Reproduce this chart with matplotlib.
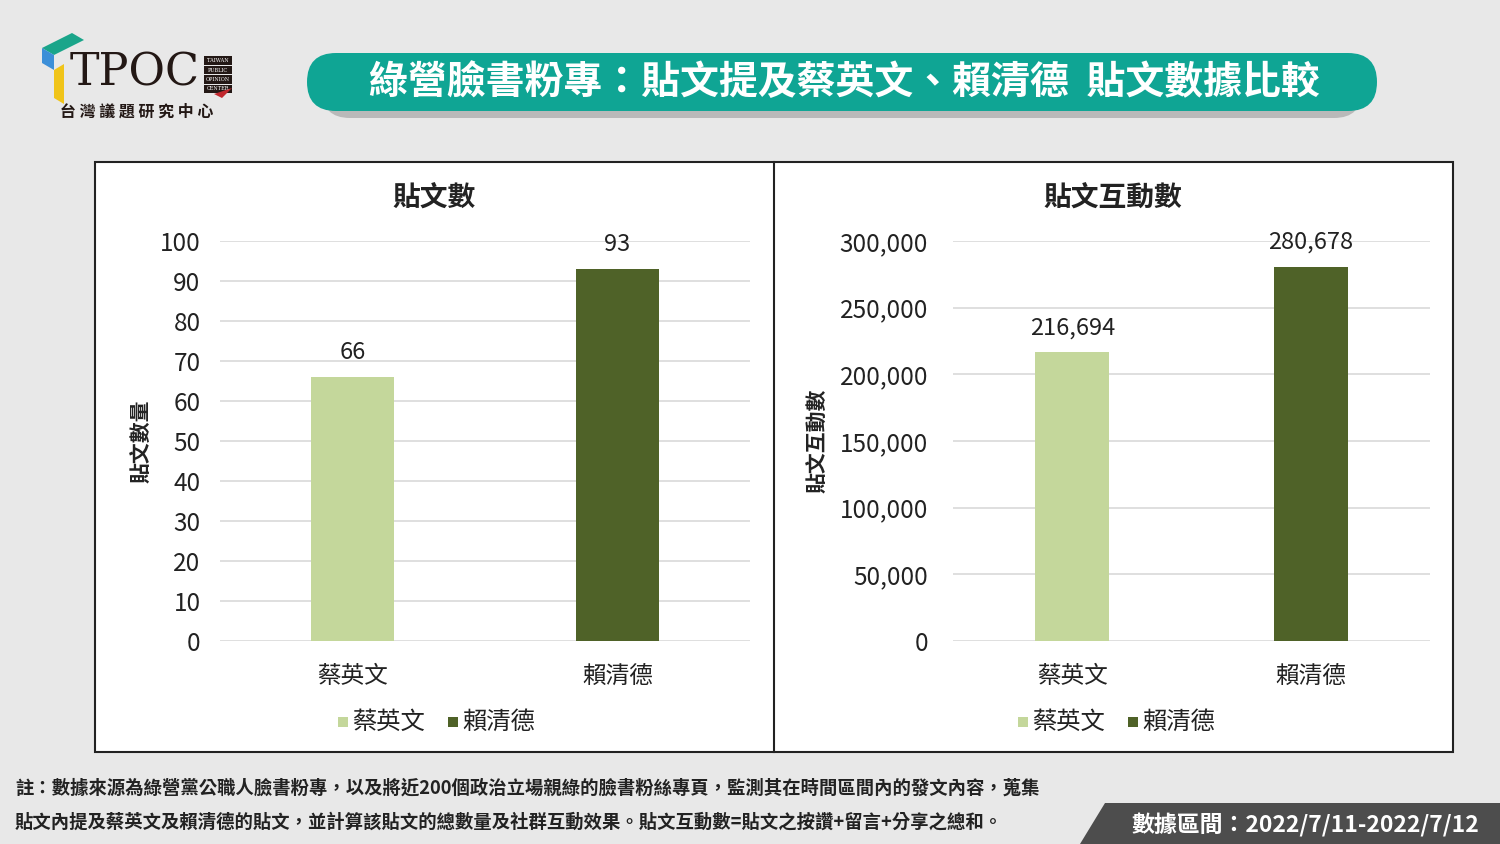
import matplotlib
matplotlib.use('Agg')
import matplotlib.pyplot as plt
import matplotlib.patches as mpatches
from matplotlib.ticker import FuncFormatter

plt.rcParams['font.family'] = ['Noto Sans CJK TC', 'DejaVu Sans']

W, H = 1500, 844

candidates = ['蔡英文', '賴清德']
post_counts = [66, 93]
interactions = [216694, 280678]
bar_colors = ['#c4d79b', '#4f6228']

count_ticks = list(range(0, 101, 10))
inter_ticks = list(range(0, 300001, 50000))

BG = '#e8e8e8'
TEAL = '#0fa594'


def px(x, y, w, h):
    # pixel box (top-left origin) -> figure fraction rect
    return [x / W, 1 - (y + h) / H, w / W, h / H]


fig = plt.figure(figsize=(15, 8.44), dpi=100, facecolor=BG)
bg = fig.add_axes([0, 0, 1, 1])
bg.set_xlim(0, W)
bg.set_ylim(H, 0)
bg.axis('off')

# title pill with shadow
bg.add_patch(mpatches.FancyBboxPatch((322, 62), 1040, 56, boxstyle='round,pad=0,rounding_size=28',
                                     facecolor='#9a9a9a', edgecolor='none', alpha=0.6))
bg.add_patch(mpatches.FancyBboxPatch((307, 53), 1070, 58, boxstyle='round,pad=0,rounding_size=29',
                                     facecolor=TEAL, edgecolor='none'))
bg.text(844, 82, '綠營臉書粉專：貼文提及蔡英文、賴清德  貼文數據比較', ha='center', va='center',
        fontsize=28, fontweight='bold', color='white')

# logo
bg.add_patch(mpatches.Polygon([(42, 48), (72, 33), (84, 40), (54, 55)], closed=True, facecolor='#1aa58a'))
bg.add_patch(mpatches.Polygon([(42, 48), (54, 55), (54, 70), (42, 63)], closed=True, facecolor='#3c8fd8'))
bg.add_patch(mpatches.Polygon([(54, 70), (64, 64), (64, 104), (54, 98)], closed=True, facecolor='#f0c419'))
bg.text(70, 73, 'TPOC', ha='left', va='center', fontsize=32, family='DejaVu Serif', color='#231815')
for i, t in enumerate(['TAIWAN', 'PUBLIC', 'OPINION', 'CENTER']):
    bg.add_patch(mpatches.Rectangle((204, 56 + i * 9.5), 28, 8.5, facecolor='#231815'))
    bg.text(218, 60.5 + i * 9.5, t, ha='center', va='center', fontsize=3.6, color='white',
            family='DejaVu Serif')
bg.add_patch(mpatches.Polygon([(214, 94), (232, 88), (222, 98)], closed=True, facecolor='#c0272d'))
bg.text(137, 112, '台 灣 議 題 研 究 中 心', ha='center', va='center', fontsize=11.5,
        fontweight='bold', color='#231815')

# white panels
bg.add_patch(mpatches.Rectangle((95, 162), 1358, 590, facecolor='white', edgecolor='#222222', linewidth=1.5))
bg.plot([774, 774], [162, 752], color='#222222', linewidth=1.5)


def style_axes(ax, ticks, fmt, ypad):
    ax.set_facecolor('white')
    for s in ax.spines.values():
        s.set_visible(False)
    ax.set_yticks(ticks)
    ax.yaxis.set_major_formatter(FuncFormatter(fmt))
    ax.set_ylim(ticks[0], ticks[-1])
    ax.set_xlim(-0.5, 1.5)
    ax.grid(axis='y', color='#d9d9d9', linewidth=1.2)
    ax.set_axisbelow(True)
    ax.tick_params(axis='both', length=0, labelsize=17.5, colors='#222222')
    ax.tick_params(axis='y', pad=ypad)
    ax.tick_params(axis='x', pad=17)
    ax.set_xticks(range(len(candidates)))
    ax.set_xticklabels(candidates, fontsize=17)


# left chart: post counts
ax1 = fig.add_axes(px(220, 241, 530, 400))
style_axes(ax1, count_ticks, lambda v, p: f'{int(v)}', 14)
bars = ax1.bar(range(len(candidates)), post_counts, width=0.31, color=bar_colors)
for b, v in zip(bars, post_counts):
    ax1.text(b.get_x() + b.get_width() / 2, v + 3.2, f'{v}', ha='center', va='bottom',
             fontsize=17, color='#222222')
ax1.set_ylabel('貼文數量', fontsize=15, fontweight='bold', labelpad=6, color='#222222')
bg.text(434, 199, '貼文數', ha='center', va='center', fontsize=20, fontweight='bold', color='#222222')

# right chart: interactions
ax2 = fig.add_axes(px(953, 241, 477, 400))
style_axes(ax2, inter_ticks, lambda v, p: f'{int(v):,}', 18)
bars = ax2.bar(range(len(candidates)), interactions, width=0.31, color=bar_colors)
for b, v in zip(bars, interactions):
    ax2.text(b.get_x() + b.get_width() / 2, v + 9500, f'{v:,}', ha='center', va='bottom',
             fontsize=17, color='#222222')
ax2.set_ylabel('貼文互動數', fontsize=15, fontweight='bold', labelpad=8, color='#222222')
bg.text(1113, 199, '貼文互動數', ha='center', va='center', fontsize=20, fontweight='bold', color='#222222')

# legends
for x0 in (338, 1018):
    for i, (name, c) in enumerate(zip(candidates, bar_colors)):
        xx = x0 + i * 110
        bg.add_patch(mpatches.Rectangle((xx, 717), 10, 10, facecolor=c))
        bg.text(xx + 14, 722, name, ha='left', va='center', fontsize=17.5, color='#222222')

# footnote
bg.text(15, 788, '註：數據來源為綠營黨公職人臉書粉專，以及將近200個政治立場親綠的臉書粉絲專頁，監測其在時間區間內的發文內容，蒐集',
        ha='left', va='center', fontsize=13.2, fontweight='bold', color='#222222')
bg.text(15, 822, '貼文內提及蔡英文及賴清德的貼文，並計算該貼文的總數量及社群互動效果。貼文互動數=貼文之按讚+留言+分享之總和。',
        ha='left', va='center', fontsize=13.2, fontweight='bold', color='#222222')

bg.add_patch(mpatches.Polygon([(1105, 803), (1500, 803), (1500, 844), (1080, 844)], closed=True,
                              facecolor='#4d4d4d'))
bg.text(1305, 825, '數據區間：2022/7/11-2022/7/12', ha='center', va='center', fontsize=16.5,
        fontweight='bold', color='white')

fig.savefig('out.png', dpi=100, facecolor=BG)
